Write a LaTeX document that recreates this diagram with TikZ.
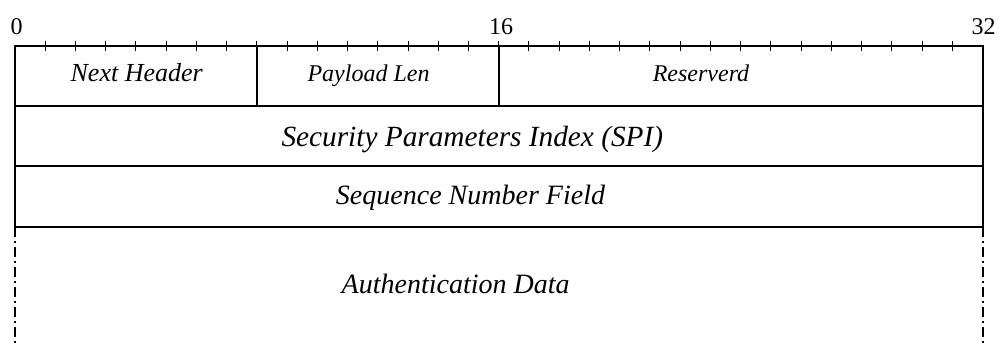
\documentclass[tikz,border=0pt]{standalone}
\usepackage{fontspec}
\setmainfont{Liberation Serif}
\begin{document}
\begin{tikzpicture}[x=1pt,y=-1pt,
  frame/.style={line width=2pt, line join=miter},
  bittick/.style={line width=1pt},
  field/.style={font=\fontsize{24}{28}\selectfont\itshape, anchor=base, inner sep=0pt},
  widefield/.style={font=\fontsize{28}{32}\selectfont\itshape, anchor=base, inner sep=0pt},
  bitnum/.style={font=\fontsize{24}{28}\selectfont, anchor=base, inner sep=0pt},
  openedge/.style={line width=2pt, dash pattern=on 10pt off 4pt on 2pt off 4pt}]
\useasboundingbox (0,0) rectangle (1000,346);
\def\bw{30.234}
% bit ruler
\foreach \i in {1,...,31}
  \draw[bittick] ({15+\i*\bw},40.5) -- ({15+\i*\bw},51);
\node[bitnum] (b0)  at (16.5,34) {0};
\node[bitnum] (b16) at (501,34) {16};
\node[bitnum] (b32) at (983.7,34) {32};
% header frame
\draw[frame] (15,227) -- (15,45.5) -- (982.5,45.5) -- (982.5,227);
\draw[frame] (15,106) -- (982.5,106);
\draw[frame] (15,166) -- (982.5,166);
\draw[frame] (15,227) -- (982.5,227);
\draw[frame] ({15+8*\bw},45.5) -- ({15+8*\bw},106);
\draw[frame] ({15+16*\bw},45.5) -- ({15+16*\bw},106);
% variable-length part
\draw[openedge] (15,227) -- (15,346);
\draw[openedge] (982.5,227) -- (982.5,346);
% field labels
\node[field, font=\fontsize{26}{30}\selectfont\itshape] (nh) at (136.7,81.5) {Next Header};
\node[field] (pl)  at (368.5,81.5) {Payload Len};
\node[field] (rsv) at (701,81.5) {Reserverd};
\node[widefield, font=\fontsize{29.3}{33}\selectfont\itshape] (spi) at (472.3,146.5) {Security Parameters Index (SPI)};
\node[widefield] (seq) at (470.5,204.5) {Sequence Number Field};
\node[widefield] (auth) at (455.6,293) {Authentication Data};
\end{tikzpicture}
\end{document}
